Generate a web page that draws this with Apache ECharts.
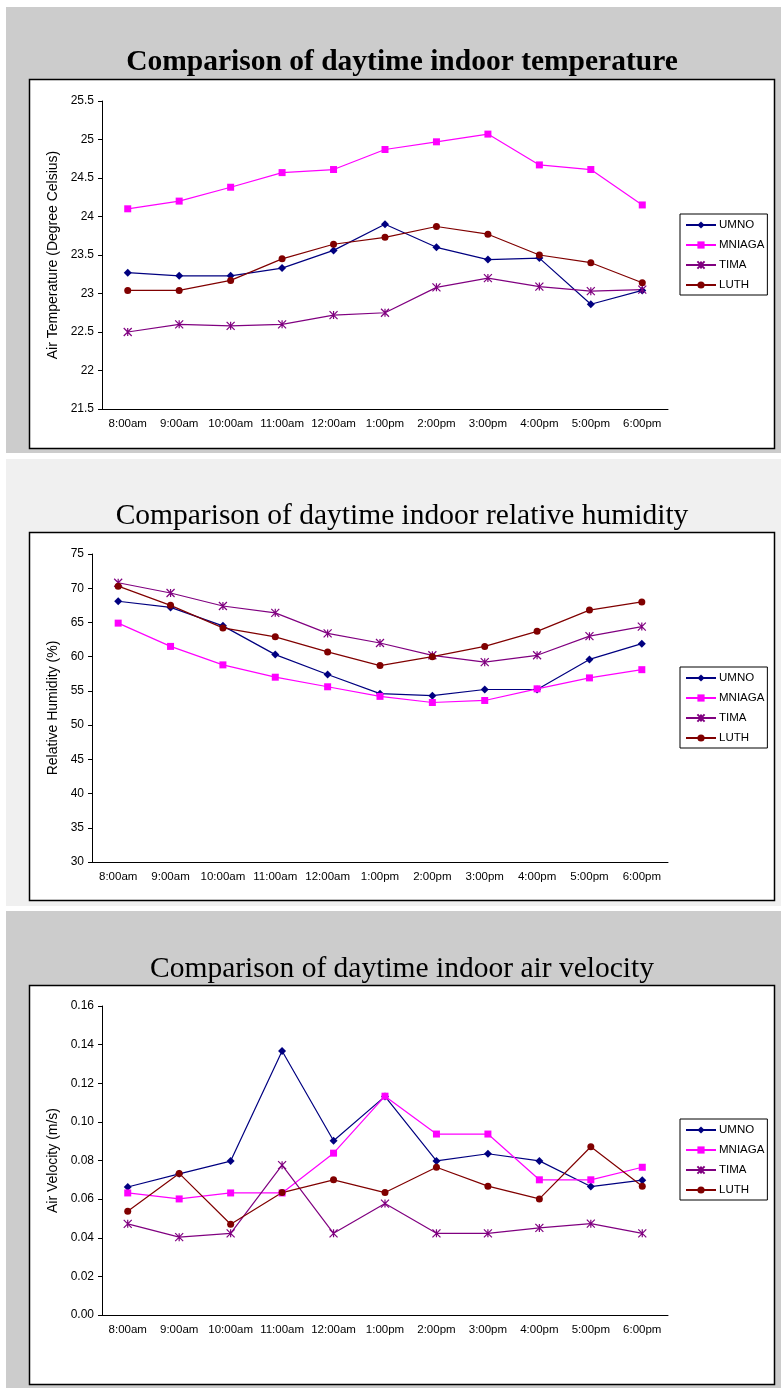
<!DOCTYPE html>
<html>
<head>
<meta charset="utf-8">
<script src="https://cdn.jsdelivr.net/npm/echarts@6/dist/echarts.min.js"></script>
<style>
  html, body { margin: 0; padding: 0; background: #fff; }
  #chart { width: 781px; height: 1388px; }
</style>
</head>
<body>
<div id="chart"></div>
<script>
// categories
const hours = ['8:00am', '9:00am', '10:00am', '11:00am', '12:00am', '1:00pm', '2:00pm', '3:00pm', '4:00pm', '5:00pm', '6:00pm']
const siteNames = ['UMNO', 'MNIAGA', 'TIMA', 'LUTH']

// air temperature (degree celsius)
const tempUmno = [23.27, 23.23, 23.23, 23.33, 23.56, 23.90, 23.60, 23.44, 23.46, 22.86, 23.04]
const tempMniaga = [24.10, 24.20, 24.38, 24.57, 24.61, 24.87, 24.97, 25.07, 24.67, 24.61, 24.15]
const tempTima = [22.50, 22.60, 22.58, 22.60, 22.72, 22.75, 23.08, 23.20, 23.09, 23.03, 23.05]
const tempLuth = [23.04, 23.04, 23.17, 23.45, 23.64, 23.73, 23.87, 23.77, 23.50, 23.40, 23.14]

// relative humidity (%)
const humUmno = [68.1, 67.2, 64.5, 60.3, 57.4, 54.6, 54.3, 55.2, 55.2, 59.6, 61.9]
const humMniaga = [64.9, 61.5, 58.8, 57.0, 55.6, 54.2, 53.3, 53.6, 55.3, 56.9, 58.1]
const humTima = [70.8, 69.3, 67.4, 66.4, 63.4, 62.0, 60.2, 59.2, 60.2, 63.0, 64.4]
const humLuth = [70.3, 67.5, 64.2, 62.9, 60.7, 58.7, 60.0, 61.5, 63.7, 66.8, 68.0]

// air velocity (m/s)
const velUmno = [0.0663, 0.0731, 0.0797, 0.1367, 0.0902, 0.1132, 0.0798, 0.0835, 0.0798, 0.0665, 0.0698]
const velMniaga = [0.0632, 0.0601, 0.0632, 0.0632, 0.0838, 0.1133, 0.0937, 0.0937, 0.0700, 0.0700, 0.0765]
const velTima = [0.0472, 0.0403, 0.0423, 0.0776, 0.0423, 0.0577, 0.0423, 0.0423, 0.0451, 0.0473, 0.0423]
const velLuth = [0.0537, 0.0733, 0.0470, 0.0634, 0.0700, 0.0634, 0.0765, 0.0667, 0.0601, 0.0871, 0.0667]

// y axis ranges (min, max, interval)
const tempTicks = [21.5, 25.5, 0.5]
const humTicks = [30, 75, 5]
const velTicks = [0, 0.16, 0.02]

const colors = ['#000080', '#ff00ff', '#800080', '#800000']
const symbols = ['diamond', 'rect', 'path://M0,0L10,10M10,0L0,10M5,0L5,10', 'circle']
const symbolSizes = [8, 7, 8, 7]

const sansFont = 'Liberation Sans'
const serifFont = 'Liberation Serif'

const panels = [
  { title: 'Comparison of daytime indoor temperature', bold: true, bg: '#cccccc', top: 7, bottom: 453, boxTop: 79, boxBottom: 448,
    titleTop: 42, grid: { left: 102, top: 101, bottom: 409 }, yName: 'Air Temperature (Degree Celsius)', nameGap: 40,
    ticks: tempTicks, data: [tempUmno, tempMniaga, tempTima, tempLuth], legendTop: 214, fmt: null },
  { title: 'Comparison of daytime indoor relative humidity', bold: false, bg: '#f0f0f0', top: 459, bottom: 906, boxTop: 532, boxBottom: 900,
    titleTop: 496, grid: { left: 92, top: 554, bottom: 862 }, yName: 'Relative Humidity (%)', nameGap: 30,
    ticks: humTicks, data: [humUmno, humMniaga, humTima, humLuth], legendTop: 667, fmt: null },
  { title: 'Comparison of daytime indoor air velocity', bold: false, bg: '#cccccc', top: 911, bottom: 1388, boxTop: 985, boxBottom: 1384,
    titleTop: 949, grid: { left: 102, top: 1006, bottom: 1315 }, yName: 'Air Velocity (m/s)', nameGap: 40,
    ticks: velTicks, data: [velUmno, velMniaga, velTima, velLuth], legendTop: 1119, fmt: v => v.toFixed(2) }
]

const chart = echarts.init(document.getElementById('chart'))

const graphic = []
const title = []
const grid = []
const xAxis = []
const yAxis = []
const legend = []
const series = []

panels.forEach((p, i) => {
  graphic.push({
    type: 'rect', z: -10, silent: true,
    shape: { x: 6, y: p.top, width: 775, height: p.bottom - p.top },
    style: { fill: p.bg }
  })
  graphic.push({
    type: 'rect', z: -9, silent: true,
    shape: { x: 29.5, y: p.boxTop + 0.5, width: 745, height: p.boxBottom - p.boxTop },
    style: { fill: '#ffffff', stroke: '#000000', lineWidth: 1.5 }
  })
  title.push({
    text: p.title,
    left: 397,
    textAlign: 'center',
    top: p.titleTop,
    textStyle: { fontFamily: serifFont, fontSize: 29.5, fontWeight: p.bold ? 'bold' : 'normal', color: '#000' }
  })
  grid.push({
    left: p.grid.left,
    width: 668 - p.grid.left,
    top: p.grid.top,
    height: p.grid.bottom - p.grid.top
  })
  xAxis.push({
    type: 'category',
    gridIndex: i,
    data: hours,
    boundaryGap: true,
    axisLine: { lineStyle: { color: '#000', width: 1 } },
    axisTick: { length: 4, lineStyle: { color: '#000' } },
    axisLabel: { color: '#000', fontFamily: sansFont, fontSize: 11.5, margin: 9, interval: 0 },
    splitLine: { show: false }
  })
  yAxis.push({
    type: 'value',
    gridIndex: i,
    min: p.ticks[0],
    max: p.ticks[1],
    interval: p.ticks[2],
    name: p.yName,
    nameLocation: 'middle',
    nameGap: p.nameGap,
    nameTextStyle: { color: '#000', fontFamily: sansFont, fontSize: 14 },
    axisLine: { show: true, lineStyle: { color: '#000', width: 1 } },
    axisTick: { show: true, length: 4, lineStyle: { color: '#000' } },
    axisLabel: { color: '#000', fontFamily: sansFont, fontSize: 12, margin: 8, formatter: p.fmt || undefined },
    splitLine: { show: false }
  })
  legend.push({
    orient: 'vertical',
    left: 680,
    top: p.legendTop,
    padding: [5, 3, 4, 5],
    itemWidth: 30,
    itemHeight: 9,
    itemGap: 8,
    backgroundColor: '#fff',
    borderColor: '#000',
    borderWidth: 1,
    borderRadius: 0,
    data: siteNames,
    selectedMode: false,
    textStyle: { color: '#000', fontFamily: sansFont, fontSize: 11.5, padding: [0, 0, 0, -2] }
  })
  siteNames.forEach((name, k) => {
    const isStar = k === 2
    series.push({
      name: name,
      type: 'line',
      xAxisIndex: i,
      yAxisIndex: i,
      data: p.data[k],
      symbol: symbols[k],
      symbolSize: symbolSizes[k],
      showAllSymbol: true,
      animation: false,
      lineStyle: { color: colors[k], width: 1.2 },
      itemStyle: isStar
        ? { color: colors[k], borderColor: colors[k], borderWidth: 1.2 }
        : { color: colors[k], borderWidth: 0 },
      emphasis: { disabled: true }
    })
  })
})

chart.setOption({
  backgroundColor: '#ffffff',
  animation: false,
  graphic: graphic,
  title: title,
  grid: grid,
  xAxis: xAxis,
  yAxis: yAxis,
  legend: legend,
  series: series
})
</script>
</body>
</html>
